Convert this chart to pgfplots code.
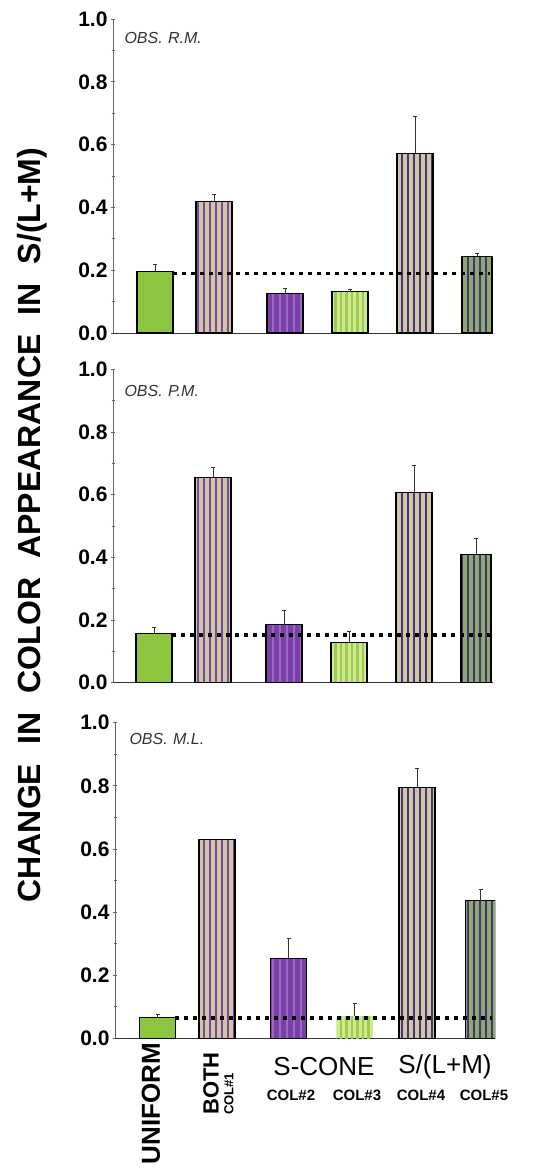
\documentclass[border=0pt]{standalone}
\usepackage{fontspec}
\setmainfont{Liberation Sans}
\usepackage{pgfplots}
\pgfplotsset{compat=1.18}
\usetikzlibrary{patterns.meta}
\definecolor{cgreen}{HTML}{8CC63F}
\definecolor{ctan}{HTML}{CFC6A4}
\definecolor{cpurp}{HTML}{7A4A9E}
\definecolor{cpurpD}{HTML}{4B3377}
\definecolor{cviol}{HTML}{7B40A8}
\definecolor{cviolL}{HTML}{9A6AC2}
\definecolor{clgreen}{HTML}{CFE894}
\definecolor{clgreenS}{HTML}{9DCB4C}
\definecolor{cdgreen}{HTML}{8BAA6E}
\pgfplotsset{
  panel/.style={
    scale only axis, width=380pt,
    xmin=0, xmax=380, ymin=0, ymax=1,
    axis x line*=bottom, axis y line*=left,
    x axis line style={black!80, line width=1pt},
    y axis line style={black!60, line width=1pt},
    xtick=\empty,
    ytick={0,0.2,0.4,0.6,0.8,1},
    minor ytick={0.1,0.3,0.5,0.7,0.9},
    tick align=center, tick pos=left,
    major tick length=4pt, minor tick length=3pt,
    tick style={black!60, line width=0.8pt},
    yticklabel style={font=\fontsize{21}{21}\selectfont\bfseries,
      /pgf/number format/fixed, /pgf/number format/fixed zerofill,
      /pgf/number format/precision=1,
      /pgf/number format/assume math mode=true},
  },
  bbar/.style={ybar, bar shift=0pt, bar width=36, draw=black, line width=1.1pt, forget plot},
  strp/.style 2 args={postaction={pattern={Lines[angle=90,distance=#1,line width=2.9pt]}, pattern color=#2}},
  errs/.style={draw=none, mark=none, forget plot,
    error bars/.cd, y dir=plus, y explicit,
    error bar style={draw=black!80, line width=1pt},
    error mark options={rotate=90, mark size=2pt, draw=black!80, line width=1pt}},
  dotl/.style={black, line width=3.6pt, dash pattern=on 3.6pt off 5.4pt, forget plot},
}
\begin{document}
\begin{tikzpicture}
\useasboundingbox (0,0) rectangle (553pt,-1169pt);

% ---------- Top panel: OBS. R.M.
\begin{axis}[panel, height=314pt, at={(113pt,-333pt)}, anchor=south west]
\addplot[bbar, fill=cgreen] coordinates {(42,0.195)};
\addplot[bbar, fill=ctan, strp={6pt}{cpurp}] coordinates {(101,0.42)};
\addplot[bbar, fill=cviol, strp={7pt}{cviolL}] coordinates {(172,0.126)};
\addplot[bbar, fill=clgreen, strp={5.5pt}{clgreenS}] coordinates {(237,0.131)};
\addplot[bbar, fill=ctan, strp={6pt}{cpurpD}] coordinates {(302,0.572)};
\addplot[bbar, bar width=30, fill=cdgreen, strp={6pt}{cpurpD}] coordinates {(364,0.245)};
\addplot[errs] coordinates {(42,0.195) +- (0,0.022) (101,0.42) +- (0,0.02) (172,0.126) +- (0,0.017) (237,0.131) +- (0,0.009) (302,0.572) +- (0,0.117) (364,0.245) +- (0,0.009)};
\addplot[dotl] coordinates {(60,0.19) (377,0.19)};
\end{axis}

% ---------- Middle panel: OBS. P.M.
\begin{axis}[panel, height=313.4pt, at={(113pt,-682.7pt)}, anchor=south west]
\addplot[bbar, fill=cgreen] coordinates {(41,0.158)};
\addplot[bbar, fill=ctan, strp={6pt}{cpurp}] coordinates {(100,0.656)};
\addplot[bbar, fill=cviol, strp={7pt}{cviolL}] coordinates {(171,0.185)};
\addplot[bbar, fill=clgreen, strp={5.5pt}{clgreenS}] coordinates {(236,0.129)};
\addplot[bbar, fill=ctan, strp={6pt}{cpurpD}] coordinates {(301,0.606)};
\addplot[bbar, bar width=30, fill=cdgreen, strp={6pt}{cpurpD}] coordinates {(363,0.41)};
\addplot[errs] coordinates {(41,0.158) +- (0,0.017) (100,0.656) +- (0,0.03) (171,0.185) +- (0,0.045) (236,0.129) +- (0,0.034) (301,0.606) +- (0,0.086) (363,0.41) +- (0,0.049)};
\addplot[dotl] coordinates {(59,0.152) (377,0.152)};
\end{axis}

% ---------- Bottom panel: OBS. M.L.
\begin{axis}[panel, height=315.6pt, at={(115pt,-1038.3pt)}, anchor=south west]
\addplot[bbar, fill=cgreen] coordinates {(42.5,0.067)};
\addplot[bbar, fill=ctan, strp={6pt}{cpurp}] coordinates {(102,0.63)};
\addplot[bbar, fill=cviol, strp={7pt}{cviolL}] coordinates {(173.5,0.252)};
\addplot[bbar, draw=none, fill=clgreen, strp={5.5pt}{clgreenS}] coordinates {(239.5,0.07)};
\addplot[bbar, fill=ctan, strp={6pt}{cpurpD}] coordinates {(302,0.794)};
\addplot[bbar, bar width=30, fill=cdgreen, strp={6pt}{cpurpD}] coordinates {(365.5,0.436)};
\addplot[errs] coordinates {(42.5,0.067) +- (0,0.01) (173.5,0.252) +- (0,0.064) (239.5,0.07) +- (0,0.041) (302,0.794) +- (0,0.06) (365.5,0.436) +- (0,0.034)};
\addplot[dotl] coordinates {(60,0.065) (377,0.065)};
\end{axis}

% ---------- Texts
\node[anchor=west, font=\fontsize{16}{16}\selectfont\itshape, text=black!80] at (121pt,-38pt) {OBS.\,\,R.M.};
\node[anchor=west, font=\fontsize{16}{16}\selectfont\itshape, text=black!80] at (121pt,-391pt) {OBS.\,\,P.M.};
\node[anchor=west, font=\fontsize{16}{16}\selectfont\itshape, text=black!80] at (126pt,-739pt) {OBS.\,\,M.L.};

\node[rotate=90, font=\fontsize{32}{32}\selectfont\bfseries] at (32pt,-525pt)
  {CHANGE\hspace{0.6em}IN\hspace{0.6em}COLOR\hspace{0.6em}APPEARANCE\hspace{0.6em}IN\hspace{0.6em}S/(L+M)};

\node[rotate=90, anchor=east, inner sep=0pt, font=\fontsize{26}{26}\selectfont\bfseries] at (151pt,-1043pt) {UNIFORM};
\node[rotate=90, anchor=west, inner sep=0pt, font=\fontsize{22}{22}\selectfont\bfseries] at (211pt,-1115pt) {BOTH};
\node[rotate=90, anchor=west, inner sep=0pt, font=\fontsize{13}{13}\selectfont\bfseries] at (229pt,-1115pt) {COL\#1};
\node[font=\fontsize{26}{26}\selectfont] at (324pt,-1067pt) {S-CONE};
\node[font=\fontsize{26}{26}\selectfont] at (445pt,-1067pt) {S/(L+M)};
\node[font=\fontsize{15}{15}\selectfont\bfseries] at (291pt,-1095pt) {COL\#2};
\node[font=\fontsize{15}{15}\selectfont\bfseries] at (357pt,-1095pt) {COL\#3};
\node[font=\fontsize{15}{15}\selectfont\bfseries] at (421pt,-1095pt) {COL\#4};
\node[font=\fontsize{15}{15}\selectfont\bfseries] at (484pt,-1095pt) {COL\#5};
\end{tikzpicture}
\end{document}
